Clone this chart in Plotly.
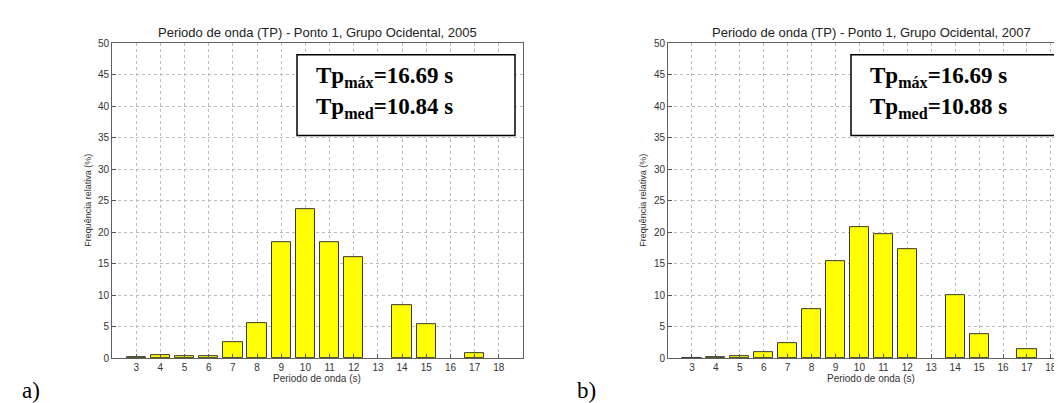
import plotly.graph_objects as go

periods = [3, 4, 5, 6, 7, 8, 9, 10, 11, 12, 13, 14, 15, 16, 17, 18]
freq_2005 = [0.15, 0.55, 0.3, 0.3, 2.55, 5.5, 18.4, 23.6, 18.4, 16.1, 0, 8.45, 5.35, 0, 0.8, 0]
freq_2007 = [0.1, 0.25, 0.4, 0.9, 2.45, 7.75, 15.45, 20.85, 19.75, 17.35, 0, 9.95, 3.9, 0, 1.4, 0]
y_ticks = [0, 5, 10, 15, 20, 25, 30, 35, 40, 45, 50]
titles = ["Periodo de onda (TP) - Ponto 1, Grupo Ocidental, 2005",
          "Periodo de onda (TP) - Ponto 1, Grupo Ocidental, 2007"]
tp_max = ["16.69", "16.69"]
tp_med = ["10.84", "10.88"]
panel_labels = ["a)", "b)"]

W, H = 1062, 403
def px(x):
    return x / W
def py(y):
    return 1 - y / H

def bar(vals, xa, ya):
    return go.Bar(x=periods, y=vals, width=0.8,
                  marker=dict(color="#ffff00",
                              line=dict(color="#3a3a2a", width=[1 if v > 0 else 0 for v in vals])),
                  xaxis=xa, yaxis=ya, showlegend=False, hoverinfo="x+y")

fig = go.Figure()
fig.add_trace(bar(freq_2005, "x", "y"))
fig.add_trace(bar(freq_2007, "x2", "y2"))

tickfont = dict(family="Liberation Sans, Arial, sans-serif", size=10, color="#333333")
common_x = dict(tickmode="array", tickvals=periods, ticks="inside", ticklen=4, tickcolor="#555555",
                showline=True, linecolor="#606060", linewidth=1, showgrid=True, gridcolor="#bcbcbc",
                griddash="dot", gridwidth=1, zeroline=False, tickfont=tickfont, fixedrange=True)
common_y = dict(tickmode="array", tickvals=y_ticks, range=[0, 50], ticks="inside", ticklen=4, tickcolor="#555555",
                showline=True, linecolor="#606060", linewidth=1, showgrid=True, gridcolor="#bcbcbc",
                griddash="dot", gridwidth=1, zeroline=False, tickfont=tickfont, fixedrange=True)

y_dom = [py(355), py(31)]
fig.update_layout(
    width=W, height=H,
    margin=dict(l=0, r=0, t=0, b=0),
    paper_bgcolor="white", plot_bgcolor="white",
    bargap=0,
    xaxis=dict(domain=[px(104), px(515)], range=[2, 19], mirror=True, anchor="y", **common_x),
    yaxis=dict(domain=y_dom, mirror=True, anchor="x", **common_y),
    xaxis2=dict(domain=[px(660), 1.0], range=[2, 18.8], mirror=True, anchor="y2", **common_x),
    yaxis2=dict(domain=y_dom, mirror=False, anchor="x2", **common_y),
)

ann = []
lab_font = dict(family="Liberation Sans, Arial, sans-serif", size=10, color="#333333")
title_font = dict(family="Liberation Sans, Arial, sans-serif", size=13, color="#222222")
box_font = dict(family="Liberation Serif, Times New Roman, serif", size=23, color="#000000")
for i, (tcx, xcx, ylx, box_l, plx) in enumerate([
        (309, 309, 80, 289, 23),
        (863, 863, 635, 843, 578)]):
    ann.append(dict(text=titles[i], x=px(tcx), y=py(20), xref="paper", yref="paper",
                    showarrow=False, font=title_font, xanchor="center", yanchor="middle"))
    ann.append(dict(text="Periodo de onda (s)", x=px(xcx), y=py(376), xref="paper", yref="paper",
                    showarrow=False, font=lab_font, xanchor="center", yanchor="middle"))
    ann.append(dict(text="Frequência relativa (%)", x=px(ylx), y=py(193), xref="paper", yref="paper",
                    showarrow=False, font=dict(family="Liberation Sans, Arial, sans-serif", size=9, color="#333333"),
                    textangle=-90, xanchor="center", yanchor="middle"))
    ann.append(dict(text=panel_labels[i], x=px(plx), y=py(388), xref="paper", yref="paper",
                    showarrow=False, font=dict(family="Liberation Serif, Times New Roman, serif", size=23, color="#000"),
                    xanchor="center", yanchor="middle"))
    ann.append(dict(text="<b>Tp<sub>máx</sub>=" + tp_max[i] + " s</b>", x=px(box_l + 17), y=py(66),
                    xref="paper", yref="paper", showarrow=False, font=box_font, xanchor="left", yanchor="middle"))
    ann.append(dict(text="<b>Tp<sub>med</sub>=" + tp_med[i] + " s</b>", x=px(box_l + 17), y=py(98),
                    xref="paper", yref="paper", showarrow=False, font=box_font, xanchor="left", yanchor="middle"))

shapes = []
for box_l, box_r in [(289, 507), (843, 1060)]:
    shapes.append(dict(type="rect", xref="paper", yref="paper", x0=px(box_l), x1=px(box_r),
                       y0=py(126), y1=py(43), line=dict(color="#000000", width=1.5), fillcolor="white", layer="above"))

fig.update_layout(annotations=ann, shapes=shapes)
fig.write_html("out.html")
